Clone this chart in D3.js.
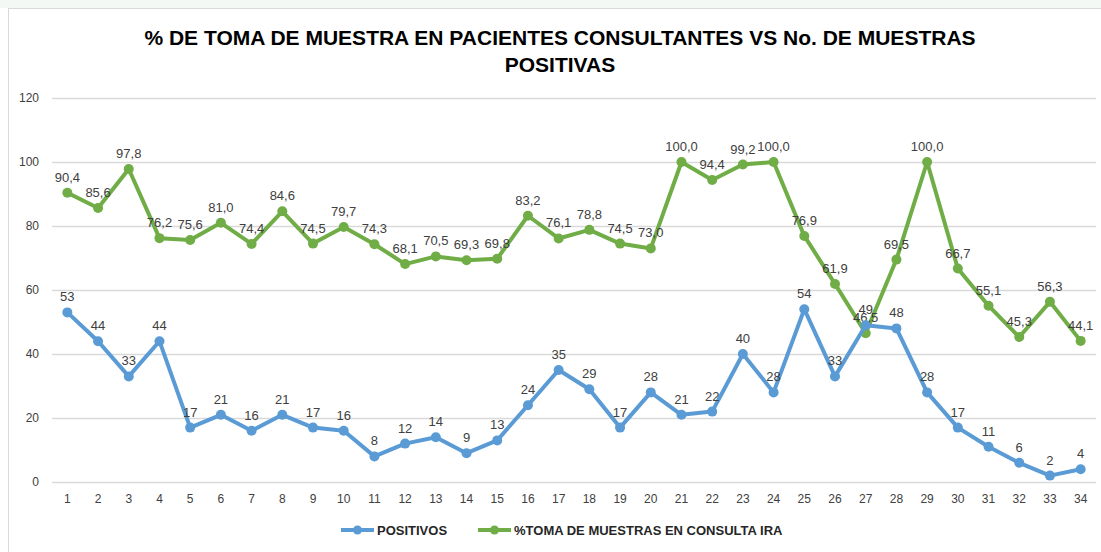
<!DOCTYPE html>
<html>
<head>
<meta charset="utf-8">
<script src="https://cdn.jsdelivr.net/npm/d3@7"></script>
<style>
  body { margin: 0; background: #fff; }
  svg { display: block; }
</style>
</head>
<body>
<svg id="chart" width="1101" height="552"></svg>
<script>
const weeks = d3.range(1, 35).map(String);
const positivos = [53, 44, 33, 44, 17, 21, 16, 21, 17, 16, 8, 12, 14, 9, 13, 24, 35, 29, 17, 28,
  21, 22, 40, 28, 54, 33, 49, 48, 28, 17, 11, 6, 2, 4];
const tomaMuestras = [90.4, 85.6, 97.8, 76.2, 75.6, 81.0, 74.4, 84.6, 74.5, 79.7, 74.3, 68.1, 70.5,
  69.3, 69.8, 83.2, 76.1, 78.8, 74.5, 73.0, 100.0, 94.4, 99.2, 100.0, 76.9, 61.9, 46.5, 69.5,
  100.0, 66.7, 55.1, 45.3, 56.3, 44.1];
const yTicks = [0, 20, 40, 60, 80, 100, 120];
const titleLines = ['% DE TOMA DE MUESTRA EN PACIENTES CONSULTANTES VS No. DE MUESTRAS', 'POSITIVAS'];

const BLUE = '#5b9bd5';
const GREEN = '#70ad47';
const FONT = '"Liberation Sans", Arial, sans-serif';
const MARGIN = { top: 98, right: 5, bottom: 70, left: 52 };
const WIDTH = 1101 - MARGIN.left - MARGIN.right;
const HEIGHT = 552 - MARGIN.top - MARGIN.bottom;

const svg = d3.select('#chart');

// faint watermark strip at the top
svg.append('rect').attr('x', 0).attr('y', 0).attr('width', 1101).attr('height', 8).attr('fill', '#f4f8f4');

// chart frame
svg.append('rect')
  .attr('x', 8.5).attr('y', 8.5)
  .attr('width', 1100).attr('height', 550)
  .attr('fill', '#fff')
  .attr('stroke', '#d9d9d9');

svg.append('g').selectAll('text')
  .data(titleLines)
  .enter()
.append('text')
  .attr('x', 560)
  .attr('y', (d, i) => 45 + i * 27)
  .attr('text-anchor', 'middle')
  .attr('font-family', FONT)
  .attr('font-weight', 'bold')
  .attr('font-size', 21)
  .attr('fill', '#000')
  .text(d => d);

const chart = svg.append('g')
  .attr('transform', `translate(${MARGIN.left},${MARGIN.top})`);

const x = d3.scaleBand().domain(weeks).range([0, WIDTH]);
const y = d3.scaleLinear().domain([0, 120]).range([HEIGHT, 0]);
const cx = d => x(d) + x.bandwidth() / 2;

// gridlines
chart.append('g')
  .call(d3.axisLeft(y).tickValues(yTicks).tickSize(-WIDTH).tickFormat(''))
  .call(g => g.select('.domain').remove())
  .call(g => g.selectAll('line').attr('stroke', '#d9d9d9').attr('stroke-width', 1.3));

// y axis labels
chart.append('g')
  .call(d3.axisLeft(y).tickValues(yTicks).tickSize(0).tickPadding(13))
  .call(g => g.select('.domain').remove())
  .call(g => g.selectAll('text').attr('font-family', FONT).attr('font-size', 12).attr('fill', '#404040'));

// x axis labels
chart.append('g')
  .attr('transform', `translate(0,${HEIGHT})`)
  .call(d3.axisBottom(x).tickSize(0).tickPadding(12))
  .call(g => g.select('.domain').remove())
  .call(g => g.selectAll('text').attr('font-family', FONT).attr('font-size', 12).attr('fill', '#404040'));

const series = [
  { values: tomaMuestras, color: GREEN, fmt: v => v.toFixed(1).replace('.', ',') },
  { values: positivos, color: BLUE, fmt: v => String(v) },
];

series.forEach(s => {
  const pts = weeks.map((w, i) => ({ w, v: s.values[i] }));
  const line = d3.line().x(d => cx(d.w)).y(d => y(d.v));

  chart.append('path')
    .datum(pts)
    .attr('fill', 'none')
    .attr('stroke', s.color)
    .attr('stroke-width', 4)
    .attr('stroke-linejoin', 'round')
    .attr('d', line);

  chart.append('g').selectAll('circle')
    .data(pts)
    .enter()
  .append('circle')
    .attr('cx', d => cx(d.w))
    .attr('cy', d => y(d.v))
    .attr('r', 5)
    .attr('fill', s.color);

  chart.append('g').selectAll('text')
    .data(pts)
    .enter()
  .append('text')
    .attr('x', d => cx(d.w))
    .attr('y', d => y(d.v) - 11)
    .attr('text-anchor', 'middle')
    .attr('font-family', FONT)
    .attr('font-size', 13)
    .attr('fill', '#404040')
    .text(d => s.fmt(d.v));
});

// legend
const legendItems = [
  { label: 'POSITIVOS', color: BLUE, x: 341 },
  { label: '%TOMA DE MUESTRAS EN CONSULTA IRA', color: GREEN, x: 478 },
];
const legend = svg.append('g').attr('transform', 'translate(0,530)');
legendItems.forEach(item => {
  legend.append('line')
    .attr('x1', item.x).attr('x2', item.x + 33)
    .attr('stroke', item.color).attr('stroke-width', 4);
  legend.append('circle')
    .attr('cx', item.x + 16.5).attr('r', 4.5).attr('fill', item.color);
  legend.append('text')
    .attr('x', item.x + 36)
    .attr('dy', '0.35em')
    .attr('font-family', FONT)
    .attr('font-weight', 'bold')
    .attr('font-size', 13)
    .attr('fill', '#262626')
    .text(item.label);
});
</script>
</body>
</html>
